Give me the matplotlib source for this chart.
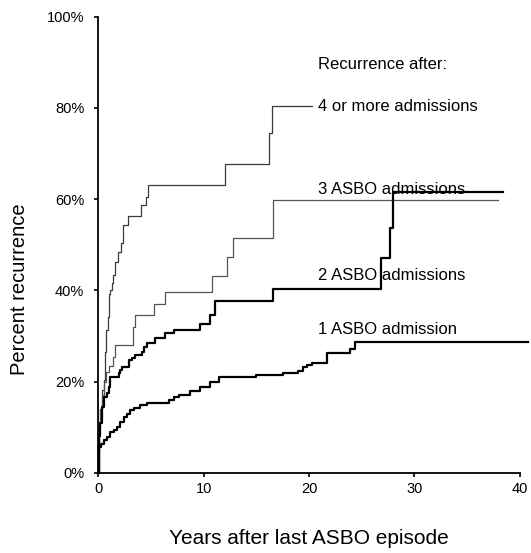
import matplotlib
matplotlib.use("Agg")
import matplotlib.pyplot as plt

plt.rcParams['font.family'] = ['Liberation Sans', 'DejaVu Sans']

# Cumulative recurrence (step curves), years vs percent
years_4plus = [0, 0.02, 0.1, 0.2, 0.35, 0.5, 0.6, 0.73, 0.92, 0.98, 1.14, 1.3, 1.4,
               1.55, 1.6, 1.87, 2.15, 2.34, 2.79, 4.05, 4.55, 4.69, 12.0, 16.2, 16.5, 20.3]
pct_4plus = [0, 5, 10, 14, 18.1, 20.3, 26.5, 31.3, 34.2, 39.3, 40.1, 41.5, 43.4,
             44.5, 46.3, 48.5, 50.3, 54.3, 56.4, 58.7, 60.5, 63.1, 67.7, 74.5, 80.4, 80.4]

years_3 = [0, 0.03, 0.1, 0.2, 0.35, 0.5, 0.7, 1.0, 1.4, 1.55, 3.26, 3.5, 5.25,
           6.36, 10.76, 12.2, 12.75, 16.6, 37.9]
pct_3 = [0, 6, 11, 14, 17, 20, 22, 23.5, 25.4, 28.0, 32.0, 34.6, 37.1,
         39.7, 43.2, 47.2, 51.5, 59.8, 59.8]

years_2 = [0, 0.03, 0.1, 0.2, 0.35, 0.51, 0.83, 0.98, 1.14, 1.93, 2.09, 2.25, 2.88,
           3.2, 3.5, 4.15, 4.3, 4.62, 5.4, 6.36, 7.15, 9.65, 10.6, 11.07, 16.6,
           26.8, 27.7, 28.0, 38.4]
pct_2 = [0, 4, 8, 11, 14.5, 16.7, 17.4, 18.9, 21.1, 21.8, 22.5, 23.2, 24.7,
         25.1, 25.8, 26.5, 27.6, 28.4, 29.5, 30.6, 31.4, 32.7, 34.5, 37.6, 40.4,
         47.0, 53.6, 61.6, 61.6]

years_1 = [0, 0.03, 0.1, 0.28, 0.51, 0.83, 1.14, 1.46, 1.77, 2.09, 2.41, 2.72, 3.04,
           3.36, 3.98, 4.62, 5.73, 6.68, 7.15, 7.63, 8.7, 9.65, 10.6, 11.5, 15.0,
           17.55, 18.95, 19.4, 19.8, 20.25, 21.7, 23.9, 24.35, 40.8]
pct_1 = [0, 3, 5.7, 6.4, 7.2, 7.9, 9.0, 9.4, 10.1, 11.2, 12.3, 13.0, 13.8,
         14.3, 14.8, 15.2, 15.4, 15.9, 16.7, 17.0, 18.0, 18.8, 19.8, 21.1, 21.5,
         21.8, 22.4, 23.1, 23.7, 24.0, 26.2, 27.2, 28.6, 28.6]

labels = ['Recurrence after:', '4 or more admissions', '3 ASBO admissions',
          '2 ASBO admissions', '1 ASBO admission']
label_y = [89.4, 80.2, 62.1, 43.3, 31.5]

fig = plt.figure(figsize=(5.31, 5.53), dpi=100)
ax = fig.add_axes([0.185, 0.145, 0.794, 0.825])

ax.step(years_4plus, pct_4plus, where='post', color='#3a3a3a', lw=0.9, clip_on=False)
ax.step(years_3, pct_3, where='post', color='#555555', lw=0.9, clip_on=False)
ax.step(years_2, pct_2, where='post', color='black', lw=1.6, clip_on=False)
ax.step(years_1, pct_1, where='post', color='black', lw=1.6, clip_on=False)

for txt, yy in zip(labels, label_y):
    ax.text(20.85, yy, txt, fontsize=12, va='center', ha='left')

ax.set_xlim(0, 40)
ax.set_ylim(0, 100)
ax.set_xticks([0, 10, 20, 30, 40])
ax.set_yticks([0, 20, 40, 60, 80, 100])
ax.set_yticklabels(['%d%%' % v for v in [0, 20, 40, 60, 80, 100]])
ax.tick_params(axis='both', labelsize=10.5, length=3, width=1.2, direction='out')
ax.tick_params(axis='y', pad=7)
ax.tick_params(axis='x', pad=3.5)

for s in ['top', 'right']:
    ax.spines[s].set_visible(False)
for s in ['left', 'bottom']:
    ax.spines[s].set_linewidth(1.3)

ax.set_xlabel('Years after last ASBO episode', fontsize=15, va='center')
ax.set_ylabel('Percent recurrence', fontsize=14.5, va='center')
ax.xaxis.set_label_coords(0.5, -0.145)
ax.yaxis.set_label_coords(-0.186, 0.403)

fig.savefig('out.png', dpi=100)
